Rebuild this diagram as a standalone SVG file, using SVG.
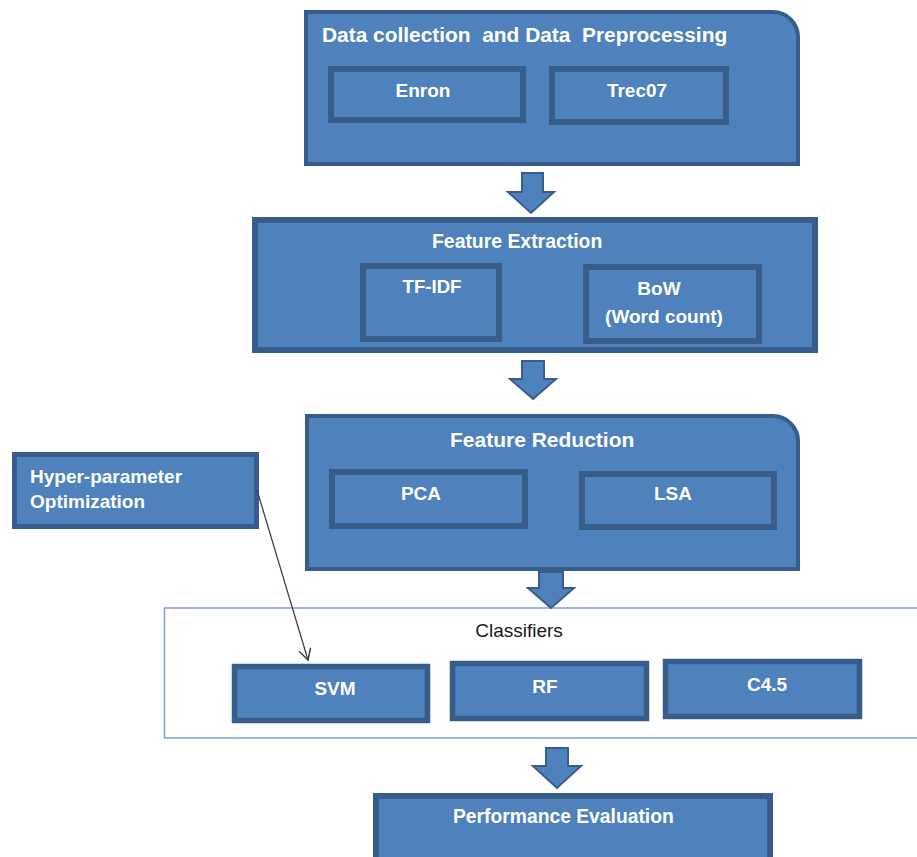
<svg xmlns="http://www.w3.org/2000/svg" width="917" height="857" viewBox="0 0 917 857">
<style>
  .box { fill: #4f81bd; stroke: #385d8a; }
  .lbl { font-family: "Liberation Sans", Arial, sans-serif; font-weight: bold; fill: #ffffff; }
  .c { text-anchor: middle; }
  .blk { fill: #4f81bd; stroke: #385d8a; stroke-width: 2; stroke-linejoin: miter; }
</style>
<defs>
  <marker id="open" markerWidth="14" markerHeight="14" refX="12" refY="7" orient="auto" markerUnits="userSpaceOnUse">
    <path d="M1,1 L12,7 L1,13" fill="none" stroke="#404040" stroke-width="1.4"/>
  </marker>
</defs>
<rect width="917" height="857" fill="#ffffff"/>

<g id="classifiers">
  <rect x="164.5" y="608" width="760" height="130" fill="#ffffff" stroke="#7ea1d6" stroke-width="1.5"/>
  <text x="519" y="637" font-family="'Liberation Sans', Arial, sans-serif" font-size="19" fill="#1a1a1a" text-anchor="middle">Classifiers</text>
</g>

<g id="data-collection">
  <path class="box" stroke-width="4" d="M306,12 H773 A25,25 0 0 1 798,37 V164 H306 Z"/>
  <text class="lbl" x="322" y="42" font-size="20.9" xml:space="preserve">Data collection  and Data  Preprocessing</text>
</g>
<g id="enron">
  <rect class="box" stroke-width="6" x="331" y="69" width="192" height="51"/>
  <text class="lbl c" x="423" y="97" font-size="19">Enron</text>
</g>
<g id="trec07">
  <rect class="box" stroke-width="6" x="552" y="69" width="174" height="53"/>
  <text class="lbl c" x="637" y="97" font-size="19">Trec07</text>
</g>

<g id="feature-extraction">
  <rect class="box" stroke-width="6" x="255" y="220" width="560" height="130"/>
  <text class="lbl" x="432" y="248" font-size="19.4">Feature Extraction</text>
</g>
<g id="tfidf">
  <rect class="box" stroke-width="6" x="363" y="266" width="136" height="73"/>
  <text class="lbl c" x="432" y="293" font-size="18.6">TF-IDF</text>
</g>
<g id="bow">
  <rect class="box" stroke-width="6" x="586" y="267" width="173" height="74"/>
  <text class="lbl c" x="659" y="295" font-size="19">BoW</text>
  <text class="lbl c" x="664" y="323" font-size="19">(Word count)</text>
</g>

<g id="feature-reduction">
  <path class="box" stroke-width="4" d="M307,416 H773 A25,25 0 0 1 798,441 V569 H307 Z"/>
  <text class="lbl" x="450" y="447" font-size="21">Feature Reduction</text>
</g>
<g id="pca">
  <rect class="box" stroke-width="6" x="332" y="472" width="193" height="54"/>
  <text class="lbl c" x="421" y="500" font-size="19">PCA</text>
</g>
<g id="lsa">
  <rect class="box" stroke-width="6" x="582" y="474" width="192" height="53"/>
  <text class="lbl c" x="673" y="500" font-size="19">LSA</text>
</g>

<g id="hyper-parameter">
  <rect class="box" stroke-width="5" x="14.5" y="454.5" width="242" height="72"/>
  <text class="lbl" x="30" y="483" font-size="19">Hyper-parameter</text>
  <text class="lbl" x="30" y="508" font-size="19">Optimization</text>
</g>

<g id="svm">
  <rect class="box" stroke-width="5.5" x="234.5" y="666.5" width="193" height="54"/>
  <text class="lbl c" x="335" y="695" font-size="19">SVM</text>
</g>
<g id="rf">
  <rect class="box" stroke-width="5.5" x="452.5" y="663.5" width="194" height="55"/>
  <text class="lbl c" x="545" y="693" font-size="19">RF</text>
</g>
<g id="c45">
  <rect class="box" stroke-width="5.5" x="665.5" y="661.5" width="194" height="55"/>
  <text class="lbl c" x="767" y="691" font-size="19">C4.5</text>
</g>

<g id="performance-evaluation">
  <rect class="box" stroke-width="6" x="376" y="796" width="394" height="70"/>
  <text class="lbl" x="453" y="823" font-size="19.3">Performance Evaluation</text>
</g>

<g id="connectors">
  <path class="blk" d="M522,173 H543 V192 H554 L531,213 L508,192 H522 Z"/>
  <path class="blk" d="M522,361 H544 V379 H556 L533,399 L510,379 H522 Z"/>
  <path class="blk" d="M539,572 H563 V588 H574 L551,608 L528,588 H539 Z"/>
  <path class="blk" d="M546,748 H568 V766 H581 L557,788 L533,766 H546 Z"/>
  <line x1="257" y1="490" x2="308" y2="660" stroke="#404040" stroke-width="1.3" marker-end="url(#open)"/>
</g>
</svg>
